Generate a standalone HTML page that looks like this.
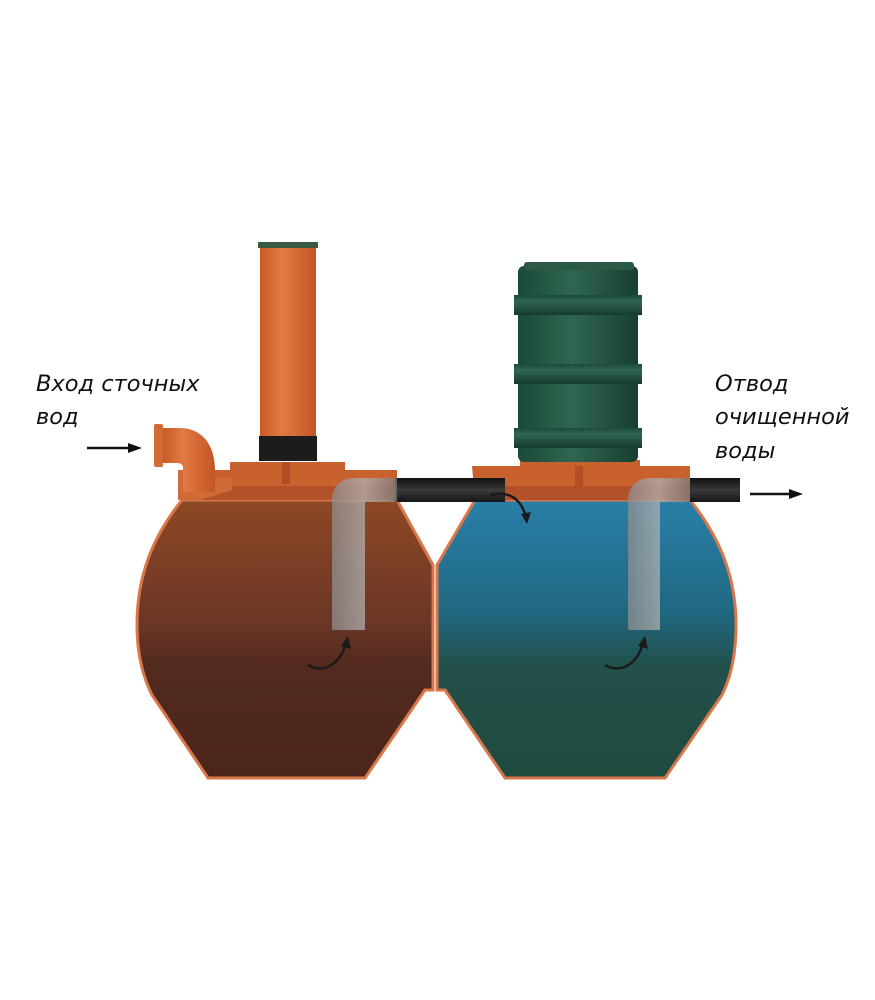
<!DOCTYPE html>
<html><head><meta charset="utf-8"><style>
html,body{margin:0;padding:0;background:#fff;}
svg{display:block}
text{font-family:"DejaVu Sans","Liberation Sans",sans-serif;font-style:italic;font-size:22.5px;fill:#111}
</style></head><body>
<svg width="875" height="1000" viewBox="0 0 875 1000" xmlns="http://www.w3.org/2000/svg">
<defs>
<linearGradient id="br" x1="0" y1="0" x2="0" y2="1">
<stop offset="0" stop-color="#8e4824"/><stop offset="0.45" stop-color="#6a3626"/><stop offset="0.6" stop-color="#522a1e"/><stop offset="1" stop-color="#4c251c"/></linearGradient>
<linearGradient id="bl" x1="0" y1="0" x2="0" y2="1">
<stop offset="0" stop-color="#2a7fa8"/><stop offset="0.4" stop-color="#1f6882"/><stop offset="0.6" stop-color="#22504a"/><stop offset="1" stop-color="#1f4a3e"/></linearGradient>
<linearGradient id="or" x1="0" y1="0" x2="1" y2="0">
<stop offset="0" stop-color="#c85a26"/><stop offset="0.4" stop-color="#e27a45"/><stop offset="1" stop-color="#c45524"/></linearGradient>
<linearGradient id="gr" x1="0" y1="0" x2="1" y2="0">
<stop offset="0" stop-color="#1a4a38"/><stop offset="0.45" stop-color="#2f6650"/><stop offset="1" stop-color="#173f30"/></linearGradient>
<linearGradient id="gb" x1="0" y1="0" x2="0" y2="1">
<stop offset="0" stop-color="#1c4a3a"/><stop offset="0.3" stop-color="#2f6652"/><stop offset="1" stop-color="#163a2d"/></linearGradient>
<linearGradient id="gp" x1="0" y1="0" x2="1" y2="0">
<stop offset="0" stop-color="#8d8d8d" stop-opacity="0.75"/><stop offset="0.5" stop-color="#b0b0b0" stop-opacity="0.75"/><stop offset="1" stop-color="#7a7a7a" stop-opacity="0.75"/></linearGradient>
<linearGradient id="bk" x1="0" y1="0" x2="0" y2="1">
<stop offset="0" stop-color="#111"/><stop offset="0.5" stop-color="#3a3a3a"/><stop offset="1" stop-color="#151515"/></linearGradient>
</defs>
<path d="M182 500 C150 540,137 580,137 625 C137 652,142 675,152 695 L208 778 L365 778 L425 690 L433 690 L433 565 L397 500 Z" fill="url(#br)" stroke="#d9774a" stroke-width="3"/>
<path d="M475 500 L437 565 L437 690 L445 690 L505 778 L665 778 L722 695 C732 675,736 652,736 625 C736 580,722 540,690 500 Z" fill="url(#bl)" stroke="#d9774a" stroke-width="3"/>
<path d="M178 470 L230 470 L230 462 L345 462 L345 470 L397 470 L397 500 L182 500 Z" fill="#c9612f"/>
<rect x="182" y="486" width="215" height="14" fill="#b3522a"/>
<path d="M178 470 L178 500 L200 500 L232 490 L232 478 L190 478 L190 470 Z" fill="#d06b38"/>
<rect x="282" y="462" width="8" height="22" fill="#b24e24"/>
<path d="M472 466 L520 466 L520 460 L640 460 L640 466 L690 466 L690 500 L475 500 Z" fill="#c9612f"/>
<rect x="475" y="486" width="215" height="14" fill="#b3522a"/>
<rect x="575" y="466" width="8" height="22" fill="#b24e24"/>
<rect x="260" y="244" width="56" height="200" fill="url(#or)"/>
<rect x="258" y="242" width="60" height="6" fill="#3a5a44"/>
<rect x="259" y="436" width="58" height="25" fill="#1c1c1c"/>
<rect x="518" y="266" width="120" height="196" rx="6" fill="url(#gr)"/>
<rect x="524" y="262" width="110" height="8" rx="3" fill="#2a5a46"/>
<rect x="514" y="295" width="128" height="20" fill="url(#gb)"/>
<rect x="514" y="364" width="128" height="20" fill="url(#gb)"/>
<rect x="514" y="428" width="128" height="20" fill="url(#gb)"/>
<path d="M162 428 L180 428 C202 428,215 445,215 470 L215 492 L183 492 L183 468 C183 464,180 463,176 463 L162 463 Z" fill="url(#or)"/>
<rect x="154" y="424" width="9" height="43" rx="2" fill="#d26a36"/>
<rect x="395" y="478" width="110" height="24" fill="url(#bk)"/>
<rect x="690" y="478" width="50" height="24" fill="url(#bk)"/>
<path d="M332 630 L332 500 C332 488,340 478,354 478 L397 478 L397 502 L365 502 L365 630 Z" fill="url(#gp)"/>
<path d="M628 630 L628 500 C628 488,636 478,650 478 L690 478 L690 502 L660 502 L660 630 Z" fill="url(#gp)"/>
<g fill="none" stroke="#1a1a1a" stroke-width="2.5">
<path d="M308 665 C325 675,342 662,346 642"/>
<path d="M605 665 C622 675,639 662,643 642"/>
<path d="M490 495 C510 490,522 500,526 518"/>
</g>
<g fill="#1a1a1a">
<path d="M341 646 L348 636 L351 649 Z"/>
<path d="M638 646 L645 636 L648 649 Z"/>
<path d="M521 514 L527 524 L531 512 Z"/>
</g>
<line x1="87" y1="448" x2="132" y2="448" stroke="#111" stroke-width="2.5"/>
<path d="M128 443 L142 448 L128 453 Z" fill="#111"/>
<line x1="750" y1="494" x2="792" y2="494" stroke="#111" stroke-width="2.5"/>
<path d="M789 489 L803 494 L789 499 Z" fill="#111"/>
<text x="36" y="391">Вход сточных</text>
<text x="36" y="424">вод</text>
<text x="715" y="391">Отвод</text>
<text x="715" y="424">очищенной</text>
<text x="715" y="458">воды</text>
</svg>
</body></html>
